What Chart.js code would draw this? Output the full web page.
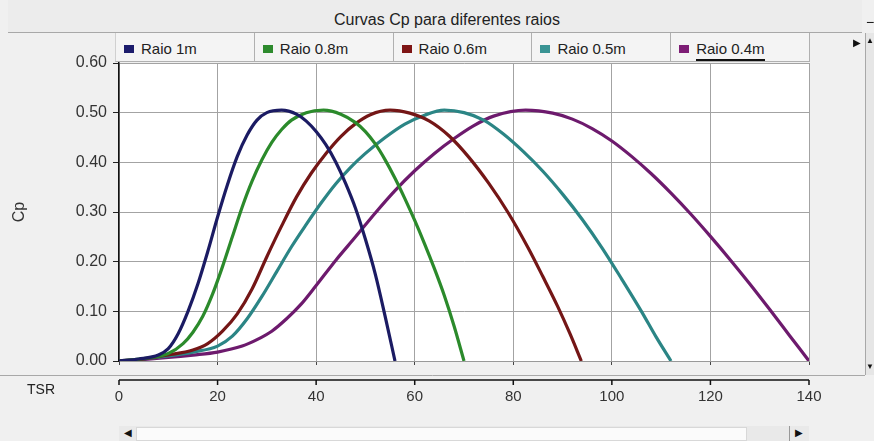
<!DOCTYPE html>
<html>
<head>
<meta charset="utf-8">
<script src="https://cdn.jsdelivr.net/npm/chart.js@4.4.0/dist/chart.umd.min.js"></script>
<style>
  body { margin: 0; background: #f0f0f0; font-family: "Liberation Sans", Arial, sans-serif; }
  #wrap { position: relative; width: 874px; height: 441px; overflow: hidden; background: #f0f0f0; }
  canvas { position: absolute; left: 0; top: 0; }
  #titulo { position: absolute; left: 8px; top: 0; width: 830px; height: 32px; padding-left: 24px;
    border-bottom: 1px solid #a8a8a8; background: #ececec; font-size: 16px; color: #222;
    text-align: center; line-height: 40px; }
  #legenda { position: absolute; left: 115px; top: 33px; width: 694px; height: 28px; display: flex;
    border-bottom: 1px solid #b0b0b0; border-left: 1px solid #d0d0d0; background: #f4f4f4; }
  .item { box-sizing: border-box; width: 139px; height: 28px; border-right: 1px solid #b0b0b0;
    font-size: 15px; color: #222; line-height: 31px; white-space: nowrap; }
  .item i { display: inline-block; width: 10px; height: 8px; margin: 0 7px 0 8px; vertical-align: 1px; }
  .item.ativo span { border-bottom: 2px solid #111; padding-bottom: 2px; }
  #tsr { position: absolute; left: 27px; top: 381px; font-size: 14px; color: #222; }
  #vbar { position: absolute; left: 865px; top: 33px; width: 9px; height: 342px; background: #e6e6e6;
    border-left: 1px solid #a8a8a8; }
  #hbar { position: absolute; left: 119px; top: 426px; width: 690px; height: 15px; background: #e9e9e9; }
  #trilho { position: absolute; left: 17px; top: 1px; width: 611px; height: 14px; background: #fbfbfb;
    border: 1px solid #d8d8d8; box-sizing: border-box; }
  .seta { position: absolute; font-size: 10px; color: #111; }
</style>
</head>
<body>
<div id="wrap">
  <canvas id="cpChart" width="874" height="441"></canvas>
  <div id="titulo">Curvas Cp para diferentes raios</div>
  <div id="legenda"></div>
  <div id="tsr">TSR</div>
  <div id="vbar"></div>
  <span class="seta" style="left:853px; top:37px;">&#9654;</span>
  <span class="seta" style="left:866px; top:36px; font-size:8px;">&#9650;</span>
  <span class="seta" style="left:866px; top:362px; font-size:8px;">&#9660;</span>
  <span class="seta" style="left:866px; top:14px; font-size:14px;">&minus;</span>
  <div id="hbar">
    <div id="trilho"></div>
    <span class="seta" style="left:5px; top:1px;">&#9664;</span>
    <span class="seta" style="left:676px; top:1px;">&#9654;</span>
    <div style="position:absolute; left:670px; top:0; width:1px; height:15px; background:#999;"></div>
  </div>
</div>
<script>
// valores (TSR x Cp)
const nomes = ["Raio 1m", "Raio 0.8m", "Raio 0.6m", "Raio 0.5m", "Raio 0.4m"];
const cores = ["#1b1b63", "#2b8a2b", "#741616", "#2b8585", "#6d1a6d"];
const coresLegenda = ["#1c1c6c", "#2e8b2e", "#7e1515", "#3a9494", "#7d1d75"];

const tsr1 = [0, 4, 8, 10, 12, 14, 16, 18, 20, 22, 24, 26, 28, 30, 33, 36, 38, 40, 42, 44, 46, 48, 50, 52, 54, 56];
const cp1 = [0, 0.004, 0.012, 0.025, 0.055, 0.10, 0.155, 0.22, 0.29, 0.355, 0.412, 0.455, 0.485, 0.50, 0.505, 0.497, 0.483, 0.462, 0.435, 0.40, 0.357, 0.307, 0.245, 0.175, 0.09, 0];

const tsr08 = [0, 5, 10, 13, 15, 17, 19, 21, 23, 25, 27, 29, 31, 33, 35, 38, 41.5, 45, 48, 50, 52, 54, 56, 58, 60, 62, 64, 66, 68, 70];
const cp08 = [0, 0.005, 0.015, 0.035, 0.058, 0.09, 0.135, 0.19, 0.25, 0.31, 0.362, 0.405, 0.44, 0.466, 0.485, 0.50, 0.505, 0.497, 0.48, 0.462, 0.437, 0.405, 0.368, 0.327, 0.283, 0.236, 0.186, 0.132, 0.07, 0];

const tsr06 = [0, 5, 10, 15, 18, 21, 24, 27, 30, 33, 36, 39, 42, 45, 48, 51, 55, 59, 63, 67, 71, 75, 79, 83, 86, 89, 91.5, 93.8];
const cp06 = [0, 0.004, 0.012, 0.022, 0.035, 0.06, 0.095, 0.145, 0.21, 0.272, 0.33, 0.378, 0.418, 0.452, 0.478, 0.496, 0.505, 0.499, 0.483, 0.453, 0.41, 0.358, 0.298, 0.228, 0.17, 0.11, 0.055, 0];

const tsr05 = [0, 5, 10, 15, 20, 23, 26, 29, 32, 35, 38, 41, 44, 47, 50, 54, 58, 62, 66, 70, 74, 78, 82, 86, 90, 94, 98, 102, 106, 109, 112];
const cp05 = [0, 0.004, 0.01, 0.018, 0.03, 0.05, 0.085, 0.13, 0.18, 0.23, 0.275, 0.318, 0.357, 0.39, 0.418, 0.45, 0.477, 0.495, 0.505, 0.5, 0.485, 0.457, 0.422, 0.382, 0.336, 0.285, 0.228, 0.165, 0.10, 0.048, 0];

const tsr04 = [0, 5, 10, 15, 20, 25, 28, 31, 34, 37, 40, 44, 48, 52, 56, 60, 64, 68, 72, 76, 82.5, 88, 92, 96, 100, 104, 108, 112, 116, 120, 124, 128, 132, 136, 140];
const cp04 = [0, 0.003, 0.007, 0.012, 0.018, 0.03, 0.043, 0.06, 0.085, 0.115, 0.152, 0.203, 0.25, 0.298, 0.343, 0.383, 0.418, 0.448, 0.474, 0.493, 0.505, 0.499, 0.487, 0.468, 0.443, 0.412, 0.377, 0.338, 0.296, 0.251, 0.204, 0.155, 0.104, 0.052, 0];

const xs = [tsr1, tsr08, tsr06, tsr05, tsr04];
const ys = [cp1, cp08, cp06, cp05, cp04];

// legenda
const legenda = document.getElementById("legenda");
nomes.forEach((nome, i) => {
  const div = document.createElement("div");
  div.className = "item" + (i === nomes.length - 1 ? " ativo" : "");
  div.innerHTML = `<i style="background:${coresLegenda[i]}"></i><span>${nome}</span>`;
  legenda.appendChild(div);
});

const extras = {
  id: "extras",
  beforeDraw(chart) {
    const { ctx, chartArea: a } = chart;
    ctx.save();
    ctx.fillStyle = "#fff";
    ctx.fillRect(a.left, a.top, a.right - a.left, a.bottom - a.top);
    ctx.restore();
  },
  afterDraw(chart) {
    const { ctx, chartArea: a, scales } = chart;
    const x = scales.x;
    ctx.save();
    ctx.strokeStyle = "#a8a8a8";
    ctx.lineWidth = 1;
    ctx.beginPath();
    ctx.moveTo(0, a.bottom + 14.5);
    ctx.lineTo(865, a.bottom + 14.5);
    ctx.stroke();
    const yEixo = a.bottom + 19;
    ctx.strokeStyle = "#111";
    ctx.lineWidth = 1.5;
    ctx.beginPath();
    ctx.moveTo(a.left, yEixo);
    ctx.lineTo(a.right, yEixo);
    x.ticks.forEach((t) => {
      const px = x.getPixelForValue(t.value);
      ctx.moveTo(px, yEixo);
      ctx.lineTo(px, yEixo + 5);
    });
    ctx.stroke();
    ctx.restore();
  },
};

new Chart(document.getElementById("cpChart"), {
  type: "line",
  data: {
    datasets: nomes.map((nome, i) => ({
      label: nome,
      data: xs[i].map((v, j) => ({ x: v, y: ys[i][j] })),
      borderColor: cores[i],
      backgroundColor: cores[i],
      borderWidth: 3.2,
      pointRadius: 0,
      cubicInterpolationMode: "monotone",
      fill: false,
    })),
  },
  options: {
    responsive: false,
    animation: false,
    layout: { padding: { top: 63, right: 65, left: 0, bottom: 0 } },
    plugins: { legend: { display: false }, tooltip: { enabled: false } },
    scales: {
      x: {
        type: "linear",
        min: 0,
        max: 140,
        afterFit: (s) => { s.height = 80; },
        ticks: { stepSize: 20, padding: 23, color: "#333", font: { family: "Liberation Sans", size: 15 } },
        grid: { color: "#a3a3a3", lineWidth: 1, tickLength: 4, tickColor: "#444" },
        border: { color: "#999", width: 1 },
      },
      y: {
        min: 0,
        max: 0.6,
        afterFit: (s) => { s.width = 119; },
        ticks: {
          stepSize: 0.1,
          padding: 6,
          color: "#333",
          font: { family: "Liberation Sans", size: 16 },
          callback: (v) => v.toFixed(2),
        },
        grid: { color: "#a3a3a3", lineWidth: 1, tickLength: 6, tickColor: "#222" },
        border: { color: "#111", width: 1.5 },
        title: {
          display: true,
          text: "Cp",
          color: "#333",
          font: { family: "Liberation Sans", size: 16 },
          padding: { top: 10, bottom: 0 },
        },
      },
    },
  },
  plugins: [extras],
});
</script>
</body>
</html>
